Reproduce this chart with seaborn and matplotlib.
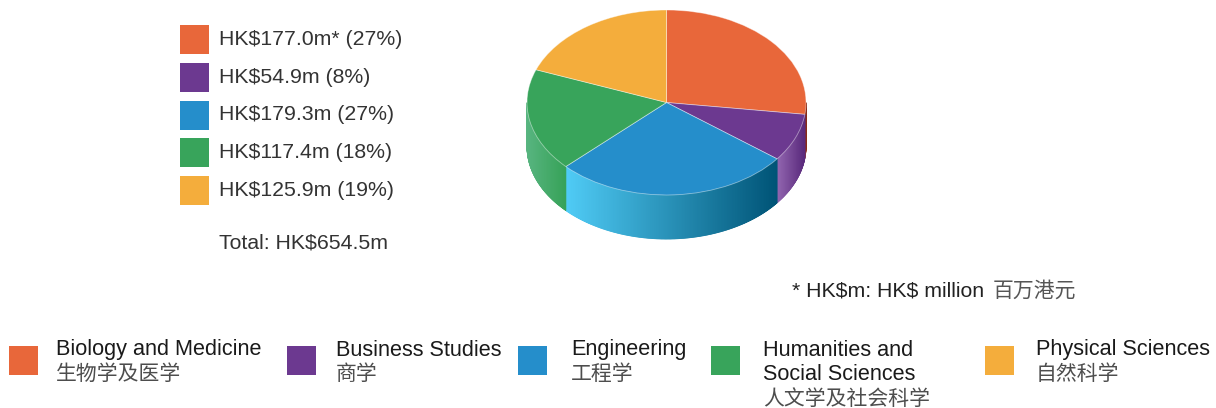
import numpy as np
import matplotlib
matplotlib.use('Agg')
import matplotlib.pyplot as plt
from matplotlib.colors import LinearSegmentedColormap
from matplotlib.patches import Rectangle, Polygon
import seaborn as sns

# research funding by subject area (HK$ million)
areas_en = ['Biology and Medicine', 'Business Studies', 'Engineering',
            'Humanities and\nSocial Sciences', 'Physical Sciences']
areas_zh = ['生物学及医学', '商学', '工程学', '人文学及社会科学', '自然科学']
amounts = [177.0, 54.9, 179.3, 117.4, 125.9]
colors = ['#E8673A', '#6C3990', '#258ECB', '#38A45B', '#F4AD3C']
# side wall shading of the 3d pie, light -> dark across each slice
wall_light = ['#C4502E', '#9468B2', '#50CCF6', '#58B580', '#F4AD3C']
wall_dark = ['#8A2A16', '#5A2A7C', '#005477', '#37A259', '#F4AD3C']

W, H = 1216, 408
sns.set_theme(style='white')
plt.rcParams['font.family'] = ['Liberation Sans', 'Noto Sans CJK SC']

fig = plt.figure(figsize=(W / 100, H / 100), dpi=100)


def fx(px):
    return px / W


def fy(py):
    return 1 - py / H


# pie axes, top ellipse centre at (666.5, 102.5) px, radii 139.5 x 92.5 px
ax = fig.add_axes([fx(510), fy(250), (823 - 510) / W, 250 / H])
wedges, _ = ax.pie(amounts, colors=colors, startangle=90, counterclock=False,
                   wedgeprops=dict(edgecolor=(1, 1, 1, 0.45), linewidth=0.6, zorder=3))
ax.set_aspect('auto')
ax.set_xlim(-156.5 / 139.5, 156.5 / 139.5)
ax.set_ylim(-147.5 / 92.5, 102.5 / 92.5)
ax.axis('off')
depth = 44 / 92.5

# front side walls, only the lower half of the ellipse is visible
for w, c0, c1 in zip(wedges, wall_light, wall_dark):
    cmap = LinearSegmentedColormap.from_list('wall', [c0, c1])
    for k in (-360, 0, 360):
        a, b = max(w.theta1 + k, 180), min(w.theta2 + k, 360)
        if b <= a:
            continue
        ts = np.radians(np.linspace(a, b, max(int((b - a) * 3), 3)))
        xa, xb = np.cos(ts[0]), np.cos(ts[-1])
        for t0, t1 in zip(ts[:-1], ts[1:]):
            frac = ((np.cos(t0) + np.cos(t1)) / 2 - xa) / (xb - xa)
            col = cmap(np.clip(frac, 0, 1))
            pts = [(np.cos(t0), np.sin(t0)), (np.cos(t1), np.sin(t1)),
                   (np.cos(t1), np.sin(t1) - depth), (np.cos(t0), np.sin(t0) - depth)]
            ax.add_patch(Polygon(pts, closed=True, fc=col, ec=col, lw=0.6, zorder=1))

# value legend on the left
total = sum(amounts)
for i, (v, c) in enumerate(zip(amounts, colors)):
    yc = 39.5 + i * 37.75
    fig.add_artist(Rectangle((fx(180), fy(yc + 14.5)), 29 / W, 29 / H,
                             transform=fig.transFigure, fc=c, ec='none'))
    star = '*' if i == 0 else ''
    fig.text(fx(219), fy(yc), f'HK${v:.1f}m{star} ({v / total:.0%})',
             fontsize=15.3, color='#333333', va='center', parse_math=False)
fig.text(fx(219), fy(243), f'Total: HK${total:.1f}m', fontsize=15.3,
         color='#333333', va='center', parse_math=False)

# footnote
fig.text(fx(792), fy(291), '* HK$m: HK$ million', fontsize=15.3,
         color='#222222', va='center', parse_math=False)
fig.text(fx(993), fy(291), '百万港元', fontsize=15, color='#555555', va='center')

# category legend along the bottom
sq_x = [9, 287, 518, 711, 985]
txt_x = [56, 336, 571, 763, 1036]
for c, en, zh, sx, tx in zip(colors, areas_en, areas_zh, sq_x, txt_x):
    fig.add_artist(Rectangle((fx(sx), fy(375)), 29 / W, 29 / H,
                             transform=fig.transFigure, fc=c, ec='none'))
    lines = en.split('\n')
    for j, line in enumerate(lines):
        fig.text(fx(tx), fy(355.5 + 25 * j), line, fontsize=15.6,
                 color='#1a1a1a', va='baseline')
    fig.text(fx(tx), fy(374 + 25 * len(lines) - 25), zh, fontsize=15,
             color='#4d4d4d', va='center')

fig.savefig('out.png', dpi=100)
